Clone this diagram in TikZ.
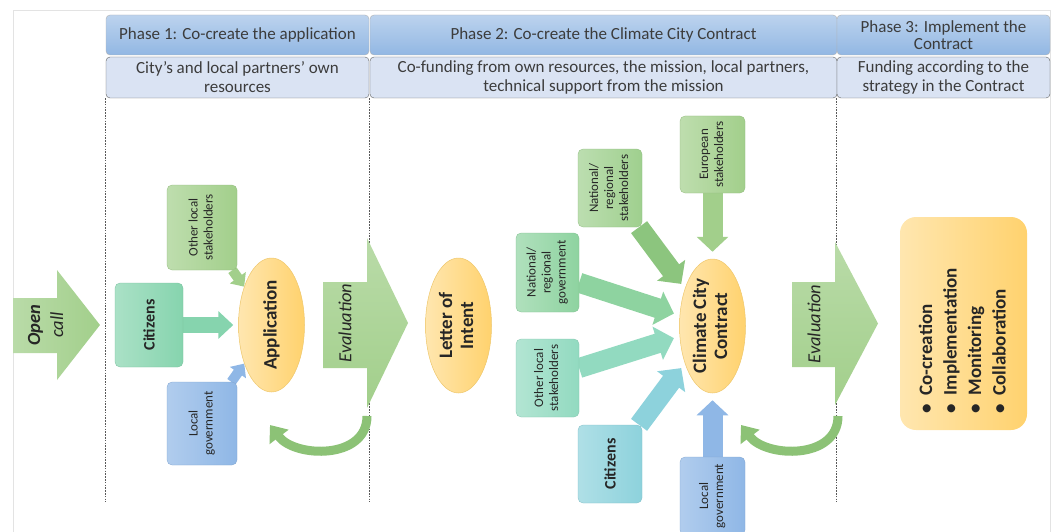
\documentclass[tikz,border=0pt]{standalone}
\usepackage{fontspec}
\usepackage{graphicx}
\setmainfont{Carlito}
\usetikzlibrary{shapes.geometric,arrows.meta,backgrounds}

\definecolor{hdrtop}{HTML}{BCD3EE}
\definecolor{hdrbot}{HTML}{92B7E3}
\definecolor{subfill}{HTML}{DAE3F3}
\definecolor{txt}{HTML}{262626}
\definecolor{leaf}{HTML}{A2CF8B}
\definecolor{leafdk}{HTML}{8CC276}
\definecolor{mint}{HTML}{86D4AE}
\definecolor{sea}{HTML}{92DAC0}
\definecolor{fern}{HTML}{8ED3A0}
\definecolor{sky}{HTML}{8DD2DC}
\definecolor{steel}{HTML}{8FB7E6}
\definecolor{goal}{HTML}{FFD26E}
\definecolor{goalline}{HTML}{EEC76C}

\newcommand{\vlabel}[1]{\rotatebox{90}{\begin{tabular}{@{}c@{}}#1\end{tabular}}}

\tikzset{
  phase/.style={draw=gray!60, rounded corners=4pt, top color=hdrtop, bottom color=hdrbot,
    minimum height=40pt, inner sep=1pt, align=center, text=txt!90,
    font=\fontsize{17}{17.5}\selectfont},
  funding/.style={draw=gray!75!black, rounded corners=4pt, fill=subfill,
    minimum height=41pt, inner sep=1pt, align=center, text=txt!90,
    font=\fontsize{17}{19}\selectfont},
  party/.style={rounded corners=5pt, inner sep=0pt, draw=#1!90!black, line width=0.3pt,
    left color=#1!70!white, right color=#1, text=txt,
    font=\fontsize{13}{15}\selectfont},
  goalnode/.style={ellipse, draw=goalline, line width=0.5pt, left color=goal!55!white,
    right color=goal, minimum width=66pt, minimum height=134pt, inner sep=0pt,
    text=txt, font=\bfseries\fontsize{19}{21}\selectfont},
  sep/.style={gray!70!black, line width=0.7pt, dash pattern=on 1.6pt off 1.2pt},
  feedsmall/.style={line width=10pt, draw=#1, -{Triangle[width=19pt,length=11pt]}},
  feed/.style={line width=16pt, draw=#1, -{Triangle[width=27pt,length=15pt]}, shorten >=5pt},
  feedbig/.style={line width=20pt, draw=#1, -{Triangle[width=34pt,length=17pt]}, shorten >=6pt},
  loopback/.style={line width=9pt, draw=leafdk, -{Triangle[width=23pt,length=15pt]}}
}

\begin{document}
\begin{tikzpicture}[x=1pt, y=1pt]
  \useasboundingbox (0,0) rectangle (1059,-532);

  % header rows
  \node[phase, minimum width=263pt] (ph1) at (237.5,-35) {Phase 1: Co-create the application};
  \node[phase, minimum width=467pt] (ph2) at (603.5,-35) {Phase 2: Co-create the Climate City Contract};
  \node[phase, minimum width=213pt] (ph3) at (943.5,-35) {Phase 3: Implement the\\Contract};
  \node[funding, minimum width=263pt] (fund1) at (237.5,-77.5) {City’s and local partners’ own\\resources};
  \node[funding, minimum width=467pt] (fund2) at (603.5,-77.5) {Co-funding from own resources, the mission, local partners,\\technical support from the mission};
  \node[funding, minimum width=213pt] (fund3) at (943.5,-77.5) {Funding according to the\\strategy in the Contract};

  % block arrows
  \shade[left color=leaf!75!white, right color=leaf]
    (13,-298) -- (57,-298) -- (57,-270) -- (100,-325) -- (57,-380) -- (57,-353) -- (13,-353) -- cycle;
  \shade[top color=leaf!75!white, bottom color=leaf]
    (323,-282) -- (367,-282) -- (367,-238) -- (408,-323) -- (367,-408) -- (367,-368) -- (323,-368) -- cycle;
  \shade[top color=leaf!75!white, bottom color=leaf]
    (792,-282) -- (835,-282) -- (835,-242) -- (878,-323.5) -- (835,-405) -- (835,-367) -- (792,-367) -- cycle;
  \node[text=txt, font=\fontsize{18.5}{23}\selectfont] (opencall) at (47,-325)
    {\vlabel{\bfseries\itshape Open\\\itshape call}};
  \node[text=txt, font=\itshape\fontsize{18.5}{20}\selectfont] (eval1) at (345,-323) {\rotatebox{90}{Evaluation}};
  \node[text=txt, font=\itshape\fontsize{18.5}{20}\selectfont] (eval2) at (814,-324) {\rotatebox{90}{Evaluation}};
  \coordinate (ev1foot) at (367,-416);
  \coordinate (ev2foot) at (838,-416);
  \coordinate (app1back) at (270,-425);
  \coordinate (app2back) at (741,-425);

  % phase 1
  \node[party=leaf, minimum width=70pt, minimum height=85pt] (oth1) at (202,-227.5) {\vlabel{Other local\\stakeholders}};
  \node[party=mint, minimum width=68pt, minimum height=84pt, font=\bfseries\fontsize{16}{18}\selectfont] (cit1) at (149,-325) {\rotatebox{90}{Citizens}};
  \node[party=steel, minimum width=70pt, minimum height=83pt] (gov1) at (202,-423.5) {\vlabel{Local\\government}};
  \node[goalnode] (app) at (271.5,-325) {\rotatebox{90}{Application}};

  % phase 2
  \node[goalnode, minimum height=135pt] (loi) at (458.5,-325.5) {\vlabel{Letter of\\Intent}};
  \node[party=fern, minimum width=63pt, minimum height=79pt] (ngov) at (547.5,-272.5) {\vlabel{National/\\regional\\government}};
  \node[party=sea, minimum width=63pt, minimum height=78pt] (oth2) at (547.5,-378) {\vlabel{Other local\\stakeholders}};
  \node[party=leaf!85!fern, minimum width=64pt, minimum height=78pt] (nrs) at (610,-188) {\vlabel{National/\\regional\\stakeholders}};
  \node[party=leaf, minimum width=65pt, minimum height=77pt] (eur) at (712.5,-154.5) {\vlabel{European\\stakeholders}};
  \node[party=sky, minimum width=64pt, minimum height=78pt, font=\bfseries\fontsize{16}{18}\selectfont] (cit2) at (610,-464) {\rotatebox{90}{Citizens}};
  \node[party=steel, minimum width=65pt, minimum height=78pt] (gov2) at (712.5,-496) {\vlabel{Local\\government}};
  \node[goalnode] (ccc) at (712.5,-326) {\vlabel{Climate City\\Contract}};

  % phase 3
  \node[rounded corners=16pt, left color=goal!55!white, right color=goal, minimum width=127pt,
    minimum height=213pt] (p3box) at (963.5,-323.5) {};
  \node[text=txt, font=\bfseries\fontsize{19}{24.5}\selectfont] (tasks) at (964,-341)
    {\rotatebox{90}{\begin{tabular}{@{}l@{}}\textbullet\hspace{9pt}Co-creation\\\textbullet\hspace{9pt}Implementation\\\textbullet\hspace{9pt}Monitoring\\\textbullet\hspace{9pt}Collaboration\end{tabular}}};

  \begin{scope}[on background layer]
    \draw[gray!22] (13,-545) -- (13,-10) -- (1050,-10) -- (1050,-545);
    \draw[sep] (fund1.south west) -- ++(0,-404);
    \draw[sep] (fund2.south west) -- ++(0,-404);
    \draw[sep] (fund3.south west) -- ++(0,-404);
    \draw[feedsmall=leaf] (oth1) -- (app);
    \draw[feed=mint] (cit1) -- (app);
    \draw[feedsmall=steel] (gov1) -- (app);
    \draw[feedbig=leafdk!80!fern] (nrs) -- (ccc);
    \draw[feedbig=fern] (ngov) -- (ccc);
    \draw[feedbig=sea] (oth2) -- (ccc);
    \draw[feedbig=sky] (cit2) -- (ccc);
    \draw[feedbig=leaf, shorten >=7pt, -{Triangle[width=31pt,length=15pt]}] (eur) -- (ccc);
    \draw[feedbig=steel, shorten >=7pt, -{Triangle[width=31pt,length=15pt]}] (gov2) -- (ccc);
    \draw[loopback] (ev1foot) .. controls (367,-460) and (295,-458) .. (app1back);
    \draw[loopback] (ev2foot) .. controls (838,-460) and (766,-458) .. (app2back);
  \end{scope}
\end{tikzpicture}
\end{document}
